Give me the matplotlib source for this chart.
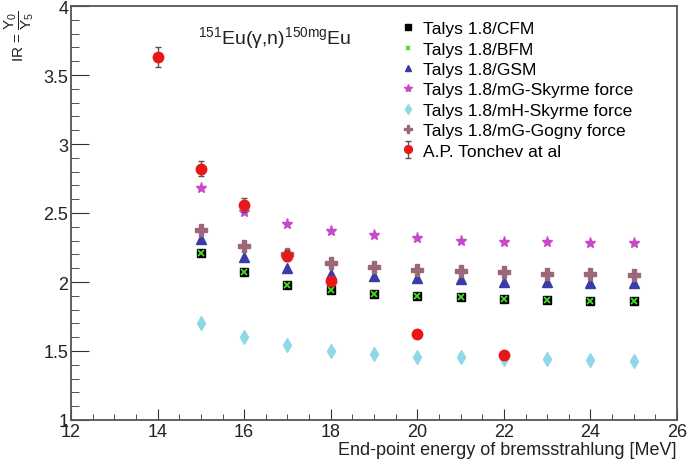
import numpy as np
import matplotlib
matplotlib.use('Agg')
import matplotlib.pyplot as plt
from matplotlib.ticker import MultipleLocator

plt.rcParams['font.family'] = ['Liberation Sans', 'DejaVu Sans']
plt.rcParams['mathtext.fontset'] = 'custom'
plt.rcParams['mathtext.rm'] = 'Liberation Sans'
plt.rcParams['mathtext.it'] = 'Liberation Sans:italic'

# end-point energies (MeV)
e_calc = [15, 16, 17, 18, 19, 20, 21, 22, 23, 24, 25]
cfm = [2.21, 2.07, 1.98, 1.94, 1.91, 1.90, 1.89, 1.88, 1.87, 1.865, 1.86]
bfm = [2.21, 2.07, 1.98, 1.94, 1.91, 1.90, 1.89, 1.88, 1.87, 1.865, 1.86]
gsm = [2.31, 2.18, 2.10, 2.06, 2.04, 2.03, 2.02, 2.00, 2.00, 1.99, 1.99]
mg_skyrme = [2.68, 2.51, 2.42, 2.37, 2.34, 2.32, 2.30, 2.29, 2.29, 2.28, 2.28]
mh_skyrme = [1.70, 1.60, 1.54, 1.50, 1.48, 1.46, 1.455, 1.44, 1.44, 1.435, 1.43]
mg_gogny = [2.38, 2.26, 2.20, 2.14, 2.11, 2.09, 2.08, 2.07, 2.06, 2.06, 2.05]

e_exp = [14, 15, 16, 17, 18, 20, 22]
ir_exp = [3.63, 2.82, 2.56, 2.19, 2.01, 1.62, 1.47]
ir_err = [0.075, 0.055, 0.05, 0.04, 0.0, 0.0, 0.0]

fig = plt.figure(figsize=(6.87, 4.64), dpi=100)
ax = fig.add_axes([71/687, 1-421/464, 606/687, 414/464])

ax.plot(e_calc, cfm, 's', color='black', ms=6, label='Talys 1.8/CFM')
ax.plot(e_calc, bfm, 'x', color='#44dd22', ms=4, mew=1.3, label='Talys 1.8/BFM')
ax.plot(e_calc, gsm, '^', color='#3b3ba8', ms=6.5, label='Talys 1.8/GSM')
ax.plot(e_calc, mg_skyrme, '*', color='#c848c8', ms=8, label='Talys 1.8/mG-Skyrme force')
ax.plot(e_calc, mh_skyrme, 'd', color='#8fd8e8', ms=7, label='Talys 1.8/mH-Skyrme force')
ax.plot(e_calc, mg_gogny, 'P', color='#9a6878', ms=8.5, label='Talys 1.8/mG-Gogny force')
ax.errorbar(e_exp, ir_exp, yerr=ir_err, fmt='o', color='#e81818', ms=7.5,
            ecolor='#555555', elinewidth=1, capsize=2.5, label='A.P. Tonchev at al')

ax.set_xlim(12, 26)
ax.set_ylim(1, 4)
ax.xaxis.set_major_locator(MultipleLocator(2))
ax.xaxis.set_minor_locator(MultipleLocator(0.5))
ax.yaxis.set_major_locator(MultipleLocator(0.5))
ax.yaxis.set_minor_locator(MultipleLocator(0.1))
ax.set_yticks([1, 1.5, 2, 2.5, 3, 3.5, 4])
ax.set_yticklabels(['1', '1.5', '2', '2.5', '3', '3.5', '4'])
ax.tick_params(axis='both', which='both', direction='in', labelsize=13,
               colors='#333333', labelcolor='#222222')
ax.tick_params(axis='y', which='major', length=13, pad=2)
ax.tick_params(axis='y', which='minor', length=6)
ax.tick_params(axis='x', which='major', length=8, pad=2)
ax.tick_params(axis='x', which='minor', length=4)
for s in ax.spines.values():
    s.set_color('#555555')
    s.set_linewidth(1.3)

ax.set_xlabel('End-point energy of bremsstrahlung [MeV]', fontsize=13,
              loc='right', labelpad=1, color='#222222')
ax.set_ylabel(r'IR = $\dfrac{\mathrm{Y_0}}{\mathrm{Y_5}}$', fontsize=11,
              loc='top', color='#222222')
ax.yaxis.set_label_coords(-0.058, 0.99)

ax.text(0.21, 0.925, r'$^{151}$Eu(γ,n)$^{\mathrm{150mg}}$Eu', transform=ax.transAxes,
        fontsize=14, ha='left', va='center', color='#222222')

leg = ax.legend(loc='upper left', bbox_to_anchor=(0.53, 0.98), frameon=False,
                fontsize=12.5, handletextpad=0.4, labelspacing=0.3,
                handlelength=1.0, borderaxespad=0, markerscale=0.75)

fig.savefig('out.png', dpi=100)
